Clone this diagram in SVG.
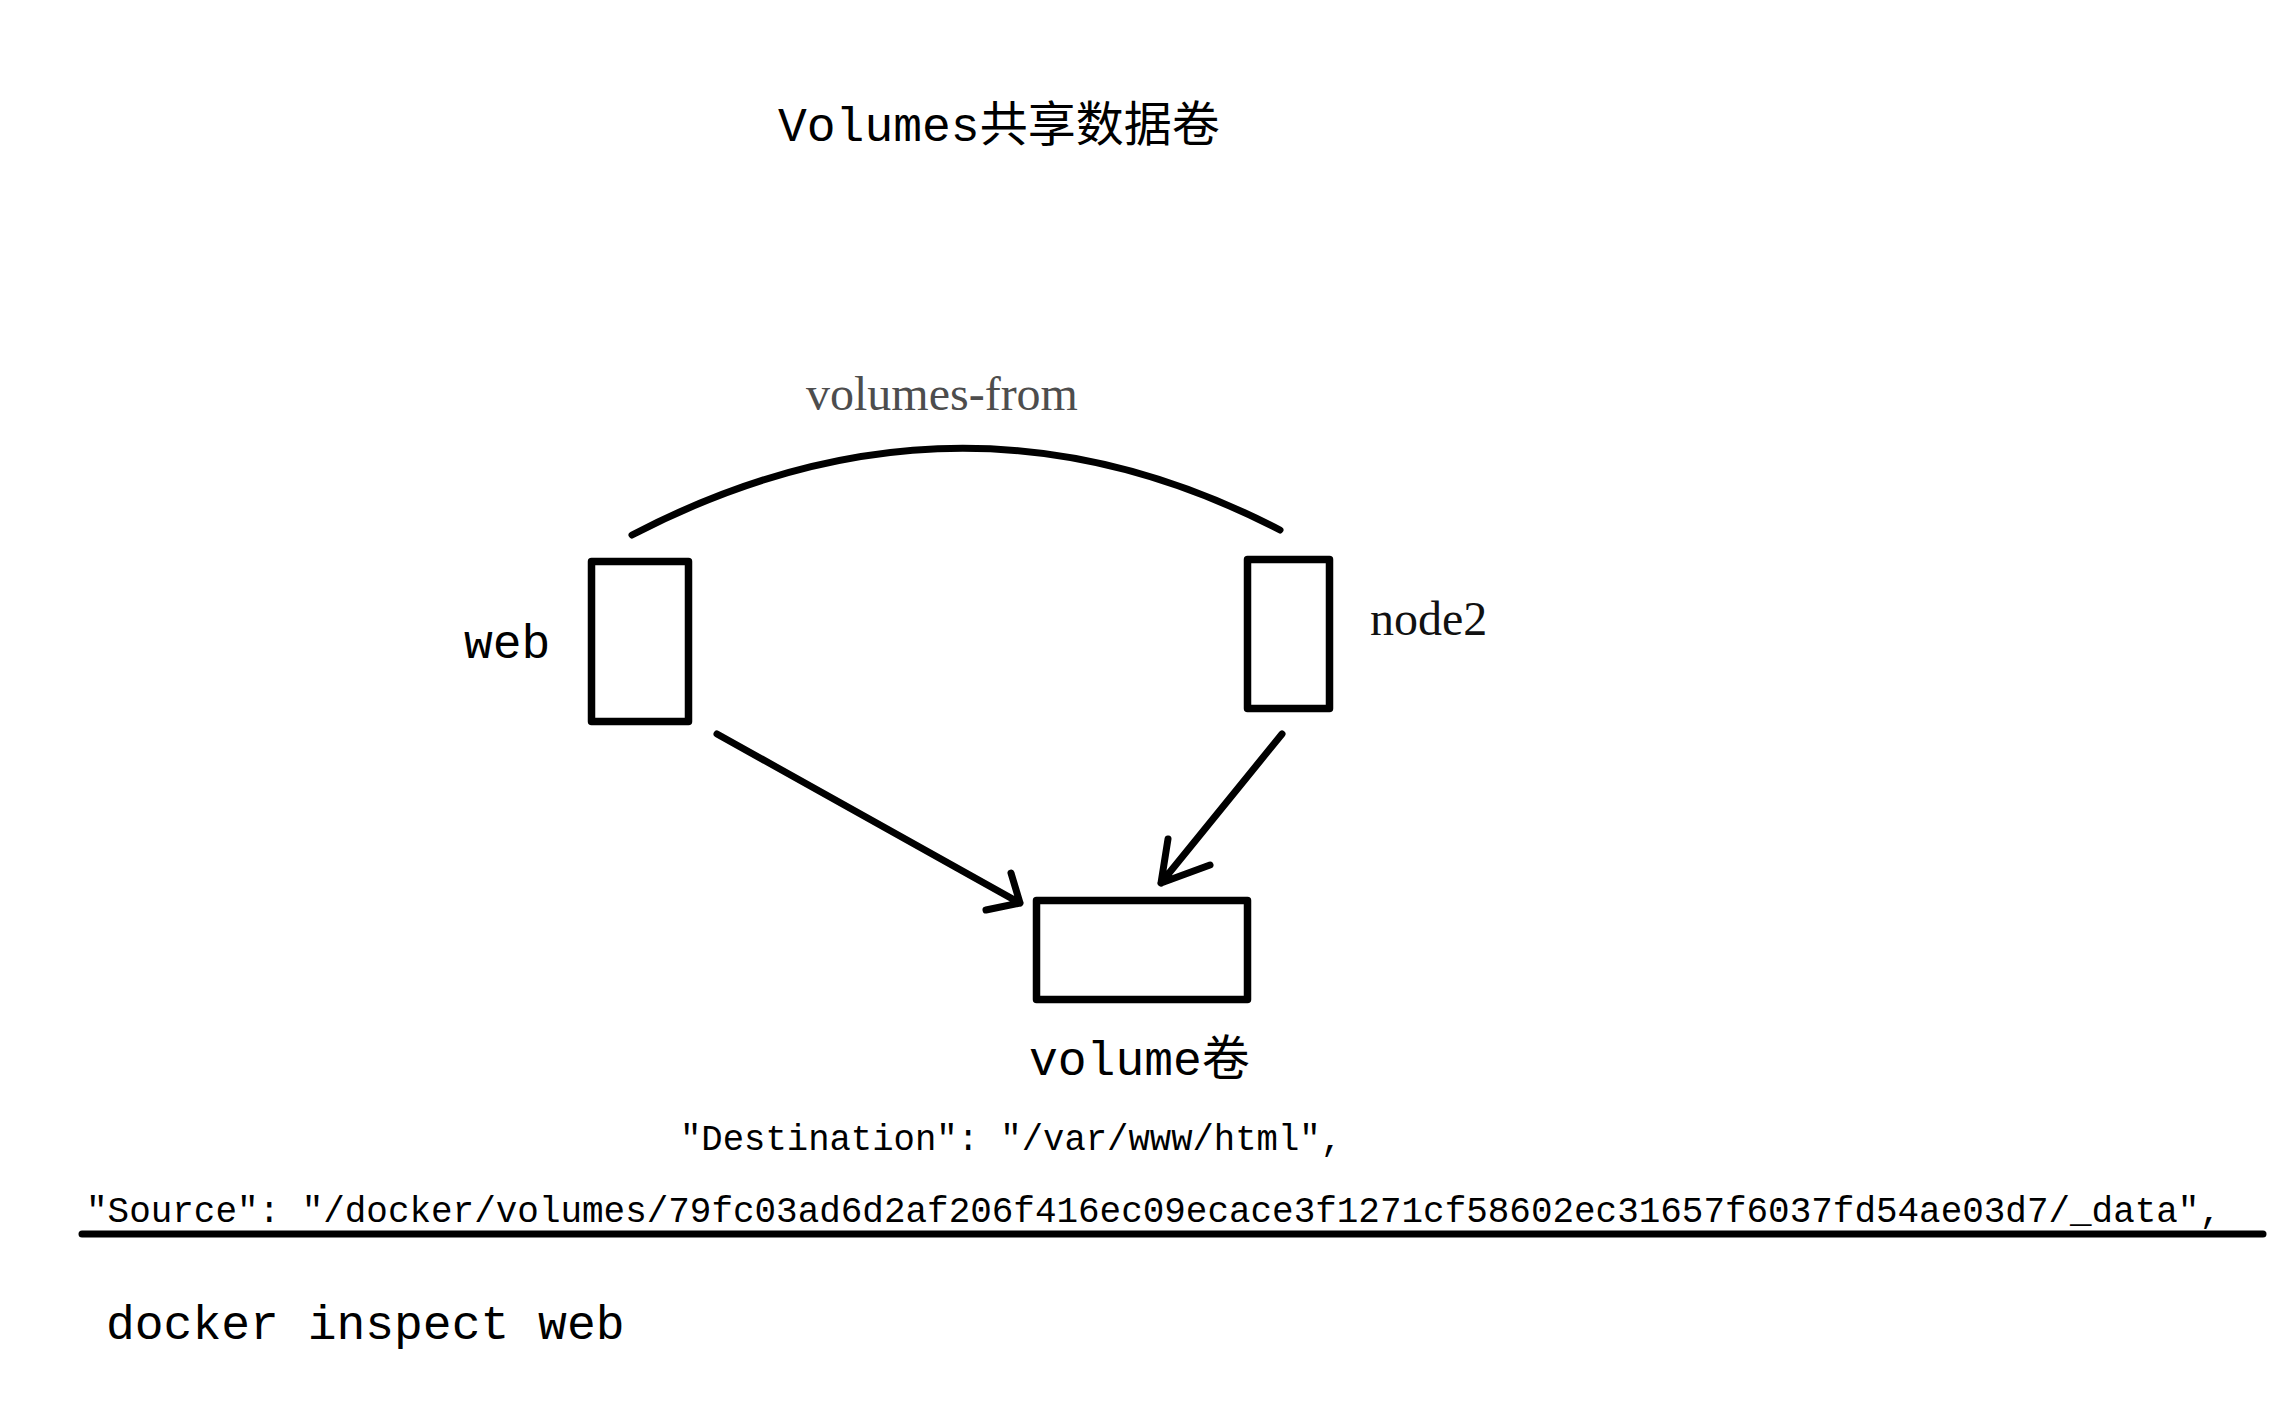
<svg xmlns="http://www.w3.org/2000/svg" width="2294" height="1424" viewBox="0 0 2294 1424">
  <style>
    .mono { font-family: "Liberation Mono", "Noto Sans CJK SC", monospace; fill: #000; }
    .serif { font-family: "Liberation Serif", serif; }
    .box { fill: #fff; stroke: #000; stroke-width: 7.5; stroke-linejoin: round; }
    .conn { fill: none; stroke: #000; stroke-width: 7; stroke-linecap: round; stroke-linejoin: round; }
  </style>
  <rect x="0" y="0" width="2294" height="1424" fill="#fff"/>

  <text class="mono" x="778" y="141" font-size="48">Volumes共享数据卷</text>

  <g id="connectors">
    <path class="conn" d="M632,535 Q960,364 1280,530" stroke-width="6.5"/>
    <path class="conn" d="M717,734 L1020,903 M1011,873 L1020,903 L986,910"/>
    <path class="conn" d="M1282,734 L1161,883 M1168,839 L1161,883 L1210,865"/>
  </g>
  <text class="serif" x="806" y="410" font-size="48" fill="#4d4d4d">volumes-from</text>

  <g id="web">
    <rect class="box" x="591.5" y="561.5" width="97" height="160"/>
    <text class="mono" x="464" y="658" font-size="48">web</text>
  </g>

  <g id="node2">
    <rect class="box" x="1247.5" y="559.5" width="82" height="149"/>
    <text class="serif" x="1370" y="635" font-size="48" fill="#111">node2</text>
  </g>

  <g id="volume">
    <rect class="box" x="1036.5" y="900.5" width="211" height="99"/>
    <text class="mono" x="1029" y="1075" font-size="48">volume卷</text>
  </g>

  <text class="mono" x="680" y="1150" font-size="36.5" textLength="662" lengthAdjust="spacingAndGlyphs">"Destination": "/var/www/html",</text>
  <text class="mono" x="86" y="1222" font-size="36" textLength="2135" lengthAdjust="spacingAndGlyphs">"Source": "/docker/volumes/79fc03ad6d2af206f416ec09ecace3f1271cf58602ec31657f6037fd54ae03d7/_data",</text>
  <line x1="82" y1="1234" x2="2263" y2="1234" stroke="#000" stroke-width="7" stroke-linecap="round"/>

  <text class="mono" x="106" y="1339" font-size="48">docker inspect web</text>
</svg>
